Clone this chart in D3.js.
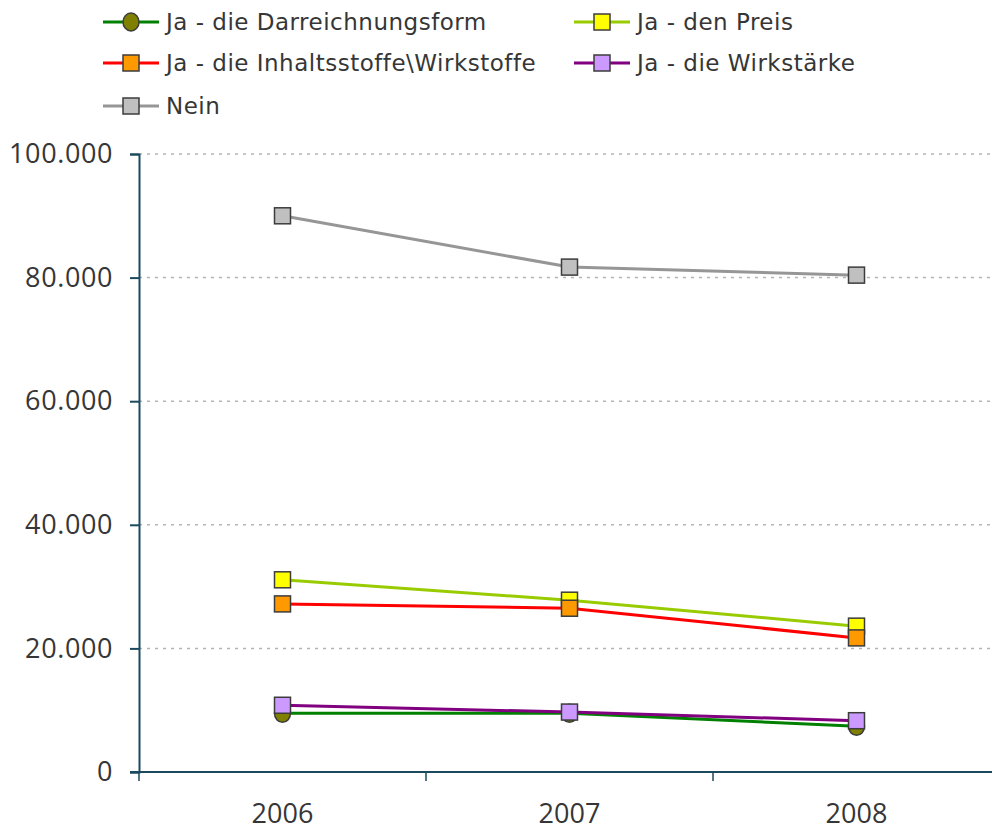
<!DOCTYPE html>
<html>
<head>
<meta charset="utf-8">
<script src="https://cdn.jsdelivr.net/npm/d3@7"></script>
<style>
  body { margin: 0; background: #fff; }
  svg { display: block; }
</style>
</head>
<body>
<div id="chart"></div>
<script>
var years = ["2006", "2007", "2008"];

var darreichungsform = [9.5, 9.5, 7.4];
var preis = [31.1, 27.8, 23.6];
var inhaltsstoffe = [27.2, 26.5, 21.7];
var wirkstaerke = [10.8, 9.7, 8.3];
var nein = [90.0, 81.7, 80.4];

var yTicks = [0, 20, 40, 60, 80, 100];

var series = [
    {name: "Ja - die Darreichnungsform", values: darreichungsform, line: "#008000", fill: "#808000", shape: "circle"},
    {name: "Ja - den Preis", values: preis, line: "#99cc00", fill: "#ffff00", shape: "square"},
    {name: "Ja - die Inhaltsstoffe\\Wirkstoffe", values: inhaltsstoffe, line: "#ff0000", fill: "#ff9900", shape: "square"},
    {name: "Ja - die Wirkstärke", values: wirkstaerke, line: "#800080", fill: "#cc99ff", shape: "square"},
    {name: "Nein", values: nein, line: "#969696", fill: "#c0c0c0", shape: "square"}
];
// draw order: Nein first so the others sit on top
var drawOrder = [4, 1, 2, 0, 3];

var width = 992,
    height = 830,
    margin = {top: 154, right: -8, bottom: 58, left: 139};

var svg = d3.select("#chart").append("svg")
    .attr("width", width)
    .attr("height", height);

var x = d3.scaleBand()
    .domain(years)
    .range([margin.left, width - margin.right]);

var y = d3.scaleLinear()
    .domain([0, 100])
    .range([height - margin.bottom, margin.top]);

var axisColor = "#1b4a5e",
    textColor = "#363636";

// grid
svg.append("g")
    .selectAll("line")
    .data(yTicks.filter(function(d) { return d > 0; }))
    .enter().append("line")
    .attr("x1", margin.left)
    .attr("x2", width)
    .attr("y1", function(d) { return y(d); })
    .attr("y2", function(d) { return y(d); })
    .attr("stroke", "#b4b4b4")
    .attr("stroke-width", 1.5)
    .attr("stroke-dasharray", "3,5");

// y axis
var yAxis = svg.append("g")
    .attr("transform", "translate(" + margin.left + ",0)")
    .call(d3.axisLeft(y).tickValues(yTicks).tickSize(9).tickPadding(17)
        .tickFormat(function(d) { return d === 0 ? "0" : d3.format(".3f")(d).replace(",", "."); }));
yAxis.select(".domain").attr("stroke", axisColor).attr("stroke-width", 2);
yAxis.selectAll(".tick line").attr("stroke", axisColor).attr("stroke-width", 2);
yAxis.selectAll(".tick text")
    .attr("fill", textColor)
    .style("font-family", "'Open Sans', sans-serif")
    .style("font-size", "27px")
    .style("letter-spacing", "0.6px");

// x axis
var xAxisG = svg.append("g")
    .attr("transform", "translate(0," + y(0) + ")");
xAxisG.append("line")
    .attr("x1", margin.left - 9)
    .attr("x2", width)
    .attr("stroke", axisColor)
    .attr("stroke-width", 2);
xAxisG.selectAll(".xtick")
    .data(years)
    .enter().append("line")
    .attr("x1", function(d) { return x(d); })
    .attr("x2", function(d) { return x(d); })
    .attr("y1", 0)
    .attr("y2", 9)
    .attr("stroke", axisColor)
    .attr("stroke-width", 1.5);
xAxisG.selectAll(".xlabel")
    .data(years)
    .enter().append("text")
    .attr("x", function(d) { return x(d) + x.bandwidth() / 2; })
    .attr("y", 51)
    .attr("text-anchor", "middle")
    .attr("fill", textColor)
    .style("font-family", "'Open Sans', sans-serif")
    .style("font-size", "27px")
    .text(function(d) { return d; });

var line = d3.line()
    .x(function(d, i) { return x(years[i]) + x.bandwidth() / 2; })
    .y(function(d) { return y(d); });

function drawMarker(g, s, cx, cy, size) {
    if (s.shape === "circle") {
        g.append("ellipse")
            .attr("cx", cx).attr("cy", cy)
            .attr("rx", size / 2).attr("ry", size / 2 + 1)
            .attr("fill", s.fill)
            .attr("stroke", "#3c3c3c")
            .attr("stroke-width", 1.5);
    } else {
        g.append("rect")
            .attr("x", cx - size / 2).attr("y", cy - size / 2)
            .attr("width", size).attr("height", size)
            .attr("fill", s.fill)
            .attr("stroke", "#3c3c3c")
            .attr("stroke-width", 1.5);
    }
}

var plot = svg.append("g");
drawOrder.forEach(function(k) {
    var s = series[k];
    plot.append("path")
        .attr("d", line(s.values))
        .attr("fill", "none")
        .attr("stroke", s.line)
        .attr("stroke-width", 3);
});
drawOrder.forEach(function(k) {
    var s = series[k];
    s.values.forEach(function(v, i) {
        drawMarker(plot, s, x(years[i]) + x.bandwidth() / 2, y(v), 16);
    });
});

// legend
var legendPos = [[103, 22], [574, 22], [103, 63], [574, 63], [103, 106]];
var legend = svg.append("g");
series.forEach(function(s, i) {
    var p = legendPos[i];
    var g = legend.append("g").attr("transform", "translate(" + p[0] + "," + p[1] + ")");
    g.append("line")
        .attr("x1", 0).attr("x2", 56)
        .attr("stroke", s.line)
        .attr("stroke-width", 3);
    drawMarker(g, s, 28, 0, 16);
    g.append("text")
        .attr("x", 63)
        .attr("y", 0)
        .attr("dy", "0.36em")
        .attr("fill", textColor)
        .style("font-family", "'DejaVu Sans', sans-serif")
        .style("font-size", "23px")
        .style("letter-spacing", "0.5px")
        .text(s.name);
});
</script>
</body>
</html>
